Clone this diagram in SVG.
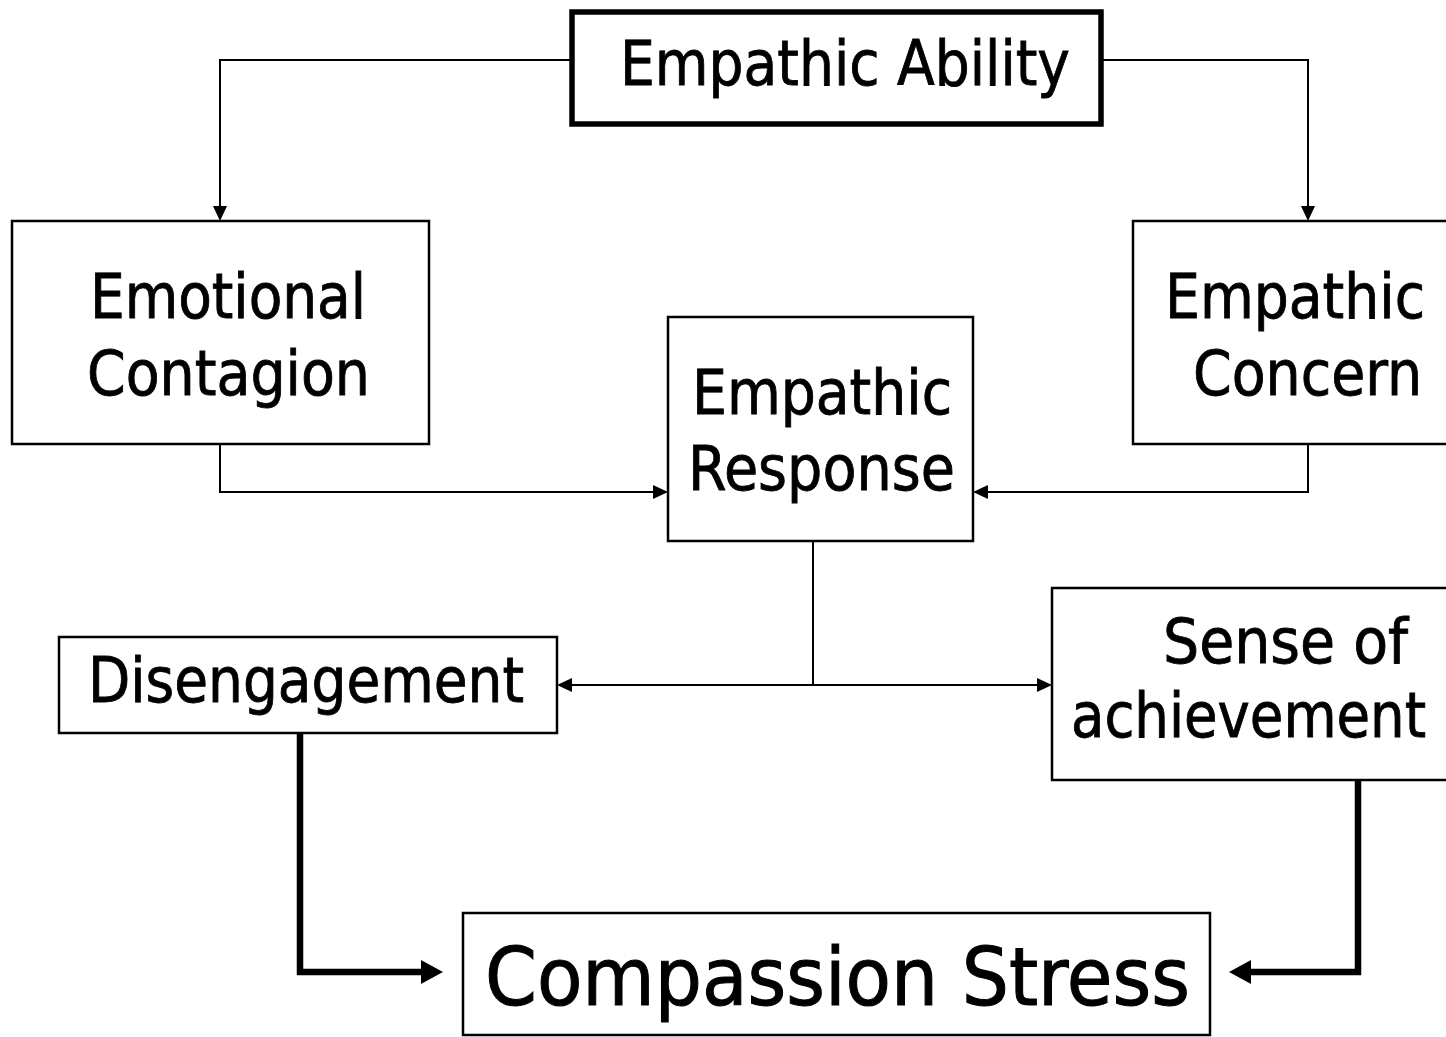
<svg xmlns="http://www.w3.org/2000/svg" width="1446" height="1037" viewBox="0 0 1446 1037">
<style>
.box{fill:#fff;stroke:#000;stroke-width:2.5}
.bold{stroke-width:5.5}
.lbl{font-family:"DejaVu Sans Condensed","DejaVu Sans",sans-serif;font-size:62px;fill:#000;stroke:#000;stroke-width:0.8}
.big{font-size:80px;stroke-width:1}
.thin{fill:none;stroke:#000;stroke-width:2}
.thick{fill:none;stroke:#000;stroke-width:6.5}
</style>
<defs>
<marker id="ah" markerUnits="userSpaceOnUse" markerWidth="17" markerHeight="16" refX="0" refY="8" orient="auto">
<path d="M0,1 L15,8 L0,15 z" fill="#000"/>
</marker>
<marker id="ahb" markerUnits="userSpaceOnUse" markerWidth="24" markerHeight="24" refX="0" refY="12" orient="auto">
<path d="M0,0 L22,12 L0,24 z" fill="#000"/>
</marker>
</defs>
<rect width="1446" height="1037" fill="#fff"/>
<g id="connectors">
<path class="thin" d="M570,60 H220 V206" marker-end="url(#ah)"/>
<path class="thin" d="M1103,60 H1308 V206" marker-end="url(#ah)"/>
<path class="thin" d="M220,444 V492 H653" marker-end="url(#ah)"/>
<path class="thin" d="M1308,444 V492 H988" marker-end="url(#ah)"/>
<path class="thin" d="M813,541 V685"/>
<path class="thin" d="M813,685 H572" marker-end="url(#ah)"/>
<path class="thin" d="M813,685 H1037" marker-end="url(#ah)"/>
<path class="thick" d="M300,733 V972 H421" marker-end="url(#ahb)"/>
<path class="thick" d="M1358,780 V972 H1251" marker-end="url(#ahb)"/>
</g>
<g id="empathic-ability">
<rect class="box bold" x="572" y="12" width="529" height="112"/>
<text class="lbl" x="620" y="85" textLength="450" lengthAdjust="spacingAndGlyphs">Empathic Ability</text>
</g>
<g id="emotional-contagion">
<rect class="box" x="12" y="221" width="417" height="223"/>
<text class="lbl" x="90" y="318" textLength="276" lengthAdjust="spacingAndGlyphs">Emotional</text>
<text class="lbl" x="87" y="395" textLength="283" lengthAdjust="spacingAndGlyphs">Contagion</text>
</g>
<g id="empathic-concern">
<rect class="box" x="1133" y="221" width="330" height="223"/>
<text class="lbl" x="1165" y="318" textLength="260" lengthAdjust="spacingAndGlyphs">Empathic</text>
<text class="lbl" x="1193" y="395" textLength="229" lengthAdjust="spacingAndGlyphs">Concern</text>
</g>
<g id="empathic-response">
<rect class="box" x="668" y="317" width="305" height="224"/>
<text class="lbl" x="692" y="414" textLength="260" lengthAdjust="spacingAndGlyphs">Empathic</text>
<text class="lbl" x="688" y="490" textLength="267" lengthAdjust="spacingAndGlyphs">Response</text>
</g>
<g id="disengagement">
<rect class="box" x="59" y="637" width="498" height="96"/>
<text class="lbl" x="88" y="702" textLength="436" lengthAdjust="spacingAndGlyphs">Disengagement</text>
</g>
<g id="sense-of-achievement">
<rect class="box" x="1052" y="588" width="410" height="192"/>
<text class="lbl" x="1163" y="663" textLength="245" lengthAdjust="spacingAndGlyphs">Sense of</text>
<text class="lbl" x="1071" y="737" textLength="355" lengthAdjust="spacingAndGlyphs">achievement</text>
</g>
<g id="compassion-stress">
<rect class="box" x="463" y="913" width="747" height="122"/>
<text class="lbl big" x="485" y="1005" textLength="705" lengthAdjust="spacingAndGlyphs">Compassion Stress</text>
</g>
</svg>
